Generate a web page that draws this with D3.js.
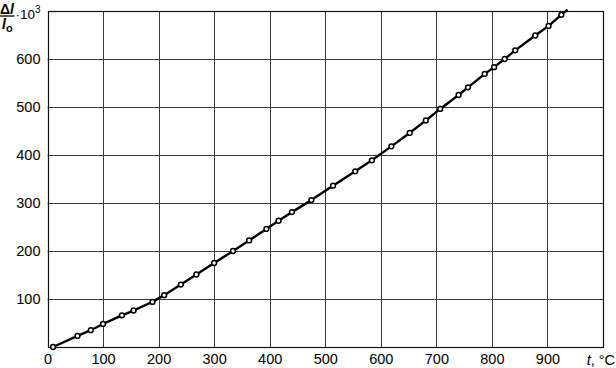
<!DOCTYPE html>
<html>
<head>
<meta charset="utf-8">
<script src="https://cdn.jsdelivr.net/npm/d3@7"></script>
<style>
  body { margin: 0; background: #fff; }
  svg { display: block; font-family: "Liberation Sans", Arial, sans-serif; }
</style>
</head>
<body>
<svg id="chart" width="616" height="368"></svg>
<script>
// measured points: temperature (°C) and relative elongation Δl/l0 ·10^3
const temps = [10, 54, 78, 100, 134, 155, 189, 210, 240, 268, 300, 334, 363, 394, 416, 440, 475, 514,
  554, 584, 619, 652, 681, 707, 740, 757, 787, 804, 823, 842, 878, 902, 925];
const elong = [0, 23, 35, 48, 66, 76, 94, 108, 130, 151, 175, 200, 222, 246, 263, 281, 306, 336,
  366, 389, 418, 446, 472, 496, 525, 541, 569, 583, 600, 618, 649, 669, 692];
// curve runs on past the last marker up to the frame
const lineEnd = [936, 703];

const xTicks = [0, 100, 200, 300, 400, 500, 600, 700, 800, 900];
const yTicks = [100, 200, 300, 400, 500, 600];

const svg = d3.select('#chart');
const margin = { top: 11, right: 13, bottom: 21, left: 47.5 };
const width = 616, height = 368;

const x = d3.scaleLinear().domain([0, 1000]).range([margin.left, width - margin.right]);
const y = d3.scaleLinear().domain([0, 700]).range([height - margin.bottom, margin.top]);

const points = temps.map((t, i) => [t, elong[i]]);

// grid
const grid = svg.append('g').attr('stroke', '#3a3a3a').attr('stroke-width', 1);
grid.selectAll('line.v')
  .data(xTicks.filter(d => d > 0))
  .join('line')
  .attr('class', 'v')
  .attr('x1', d => Math.round(x(d)) + 0.5).attr('x2', d => Math.round(x(d)) + 0.5)
  .attr('y1', y(0)).attr('y2', y(700));
grid.selectAll('line.h')
  .data(yTicks)
  .join('line')
  .attr('class', 'h')
  .attr('y1', d => Math.round(y(d)) + 0.5).attr('y2', d => Math.round(y(d)) + 0.5)
  .attr('x1', x(0)).attr('x2', x(1000));

// frame
svg.append('rect')
  .attr('x', Math.round(x(0)) + 0.5)
  .attr('y', Math.round(y(700)) + 0.5)
  .attr('width', Math.round(x(1000)) - Math.round(x(0)))
  .attr('height', Math.round(y(0)) - Math.round(y(700)))
  .attr('fill', 'none')
  .attr('stroke', '#111')
  .attr('stroke-width', 1.2);

// axes labels
const xAxis = d3.axisBottom(x).tickValues(xTicks).tickSize(0).tickPadding(7);
const gx = svg.append('g')
  .attr('transform', `translate(0,${y(0)})`)
  .call(xAxis);
gx.select('.domain').remove();
gx.selectAll('text').attr('font-size', 14.5).attr('fill', '#000')
  .attr('font-family', '"Liberation Sans", Arial, sans-serif');

const yAxis = d3.axisLeft(y).tickValues(yTicks).tickSize(0).tickPadding(7);
const gy = svg.append('g')
  .attr('transform', `translate(${x(0)},0)`)
  .call(yAxis);
gy.select('.domain').remove();
gy.selectAll('text').attr('font-size', 14.5).attr('fill', '#000')
  .attr('font-family', '"Liberation Sans", Arial, sans-serif');

// x title
const xt = svg.append('text')
  .attr('x', 615).attr('y', 364.5)
  .attr('text-anchor', 'end')
  .attr('font-size', 14.5);
xt.append('tspan').attr('font-style', 'italic').text('t');
xt.append('tspan').text(', °C');

// y title: Δl / l0 · 10^3
const yt = svg.append('g');
const numer = yt.append('text').attr('x', 0).attr('y', 14).attr('font-size', 14).attr('font-weight', 'bold');
numer.append('tspan').text('Δ');
numer.append('tspan').attr('font-style', 'italic').text('l');
yt.append('line').attr('x1', 0).attr('x2', 14.5).attr('y1', 16).attr('y2', 16)
  .attr('stroke', '#000').attr('stroke-width', 1.3);
const denom = yt.append('text').attr('x', 2).attr('y', 29).attr('font-size', 14).attr('font-weight', 'bold');
denom.append('tspan').attr('font-style', 'italic').text('l');
denom.append('tspan').attr('font-size', 11).attr('dy', 3).text('o');
const mult = yt.append('text').attr('x', 15.5).attr('y', 18.5).attr('font-size', 13.5);
mult.append('tspan').text('·10');
mult.append('tspan').attr('font-size', 10).attr('dy', -6).text('3');

// curve
const line = d3.line().x(d => x(d[0])).y(d => y(d[1]));
svg.append('path')
  .datum(points.concat([lineEnd]))
  .attr('d', line)
  .attr('fill', 'none')
  .attr('stroke', '#000')
  .attr('stroke-width', 2.4)
  .attr('stroke-linejoin', 'round');

svg.append('g')
  .selectAll('circle')
  .data(points)
  .join('circle')
  .attr('cx', d => x(d[0]))
  .attr('cy', d => y(d[1]))
  .attr('r', 2.4)
  .attr('fill', '#fff')
  .attr('stroke', '#000')
  .attr('stroke-width', 1.5);
</script>
</body>
</html>
